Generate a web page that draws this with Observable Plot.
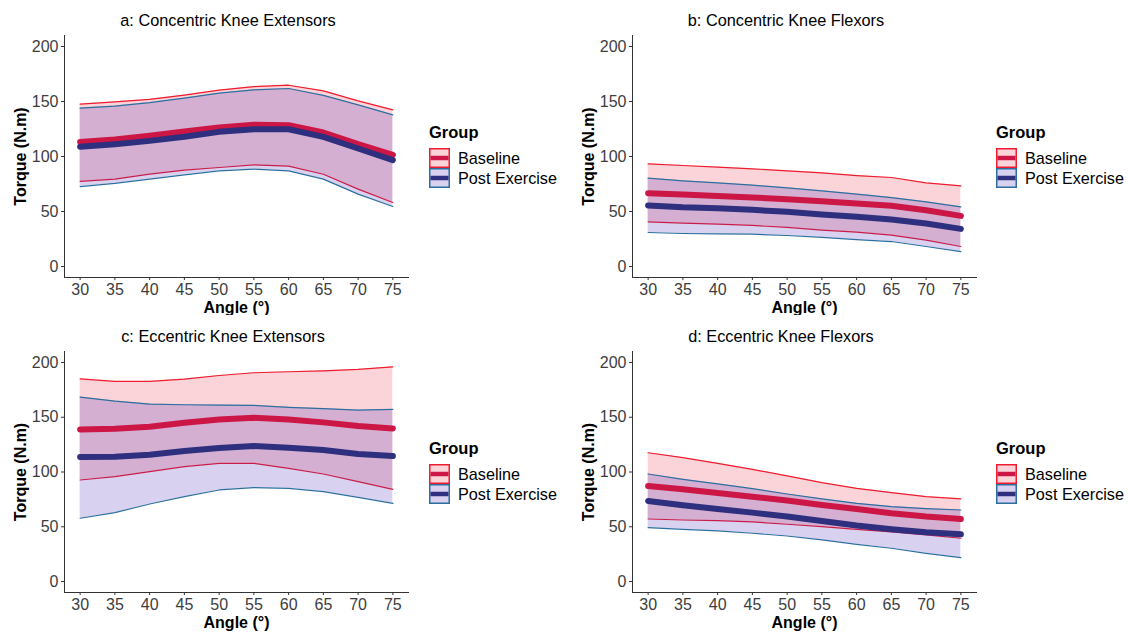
<!DOCTYPE html>
<html>
<head>
<meta charset="utf-8">
<script src="https://cdn.jsdelivr.net/npm/d3@7"></script>
<script src="https://cdn.jsdelivr.net/npm/@observablehq/plot@0.6"></script>
<style>
  body { margin: 0; background: #fff; }
  #wrap { position: relative; width: 1128px; height: 633px; background: #fff; overflow: hidden;
          font-family: "Liberation Sans", Arial, Helvetica, sans-serif; }
  .panel { position: absolute; }
  .title { position: absolute; font-size: 16.3px; color: #000; white-space: nowrap; transform: translateX(-50%); }
  .legend { position: absolute; font-size: 16.2px; color: #000; white-space: nowrap; width: 128px; }
  .legend .lt { font-weight: bold; margin-bottom: 6px; font-size: 16.5px; }
  .legend .row { display: flex; align-items: center; height: 20px; white-space: nowrap; }
  .legend .row span { margin-left: 8px; white-space: nowrap; }
  svg g[aria-label="x-axis label"] text, svg g[aria-label="y-axis label"] text { font-weight: bold; fill: #000; }
  svg g[aria-label="x-axis tick label"] text, svg g[aria-label="y-axis tick label"] text { fill: #3d3d3d; }
</style>
</head>
<body>
<div id="wrap"></div>
<script>
// ---------- data ----------
const angles = [30, 35, 40, 45, 50, 55, 60, 65, 70, 75];
const yTicks = [0, 50, 100, 150, 200];
const xTicks = [30, 35, 40, 45, 50, 55, 60, 65, 70, 75];
const groups = ["Baseline", "Post Exercise"];
const titles = ["a: Concentric Knee Extensors", "b: Concentric Knee Flexors", "c: Eccentric Knee Extensors", "d: Eccentric Knee Flexors"];

// a: Concentric Knee Extensors
const aBaseMean = [113.3, 115.5, 118.8, 122.7, 126.4, 128.8, 128.5, 121.8, 111.2, 101.5];
const aBaseHi   = [147.6, 149.7, 152.0, 155.8, 160.3, 163.6, 164.8, 159.7, 150.6, 142.4];
const aBaseLo   = [77.3, 79.4, 83.9, 87.6, 90.0, 92.4, 91.2, 83.9, 70.3, 58.2];
const aPostMean = [108.8, 111.2, 114.2, 117.9, 122.4, 124.8, 124.8, 117.9, 107.3, 96.7];
const aPostHi   = [144.0, 145.8, 149.0, 153.0, 157.6, 160.6, 161.8, 155.5, 147.0, 137.9];
const aPostLo   = [72.7, 75.5, 79.4, 83.3, 87.0, 88.5, 87.0, 79.4, 65.8, 54.5];

// b: Concentric Knee Flexors
const bBaseMean = [66.7, 65.5, 64.2, 62.7, 61.2, 59.4, 57.3, 55.2, 51.2, 46.0];
const bBaseHi   = [93.3, 91.8, 90.3, 88.8, 87.0, 85.2, 82.7, 80.9, 76.0, 73.3];
const bBaseLo   = [40.6, 39.4, 38.5, 37.3, 35.5, 33.0, 31.2, 28.5, 23.9, 18.2];
const bPostMean = [55.5, 53.9, 53.0, 51.5, 49.7, 47.3, 45.2, 42.7, 39.1, 34.2];
const bPostHi   = [80.3, 77.9, 76.0, 73.9, 71.5, 68.8, 65.8, 62.7, 58.8, 54.2];
const bPostLo   = [30.9, 30.0, 29.7, 29.4, 28.2, 26.4, 24.5, 22.7, 18.2, 13.6];

// c: Eccentric Knee Extensors
const cBaseMean = [138.9, 139.5, 141.3, 145.0, 148.0, 149.5, 148.0, 145.3, 141.9, 139.8];
const cBaseHi   = [185.1, 182.7, 182.7, 184.8, 188.1, 190.6, 191.5, 192.4, 193.6, 196.0];
const cBaseLo   = [92.7, 95.7, 100.3, 104.9, 107.9, 107.9, 103.3, 98.2, 91.2, 84.2];
const cPostMean = [113.7, 114.0, 115.8, 119.1, 121.9, 123.7, 122.2, 120.1, 116.4, 114.6];
const cPostHi   = [168.4, 164.7, 162.0, 161.4, 161.1, 160.8, 159.0, 157.8, 156.5, 157.1];
const cPostLo   = [57.8, 62.9, 70.8, 77.5, 83.6, 85.7, 85.1, 82.1, 76.9, 71.4];

// d: Eccentric Knee Flexors
const dBaseMean = [87.2, 84.2, 80.9, 77.5, 73.9, 69.9, 66.3, 62.3, 59.3, 57.1];
const dBaseHi   = [117.6, 113.1, 107.9, 102.4, 96.4, 90.3, 85.1, 81.2, 77.5, 75.4];
const dBaseLo   = [57.1, 56.2, 55.6, 54.4, 52.3, 50.2, 47.7, 45.3, 42.6, 39.5];
const dPostMean = [73.6, 69.6, 66.3, 62.9, 59.3, 55.3, 51.1, 47.7, 45.0, 43.2];
const dPostHi   = [98.2, 93.3, 89.1, 84.8, 79.9, 75.4, 71.4, 68.4, 66.6, 65.3];
const dPostLo   = [49.2, 47.7, 46.2, 44.1, 41.6, 38.0, 34.0, 30.4, 25.8, 21.9];

// ---------- styles ----------
const baseRibbon = "#eb2a40", postRibbon = "#3c1eb4";
const baseEdge = "#ee1c2e", postEdge = "#2c6f9f";
const baseLine = "#cc1645", postLine = "#2e2f7e";
const ribbonOpacity = 0.2;

function rows(mean, lo, hi) {
  return angles.map((a, i) => ({angle: a, mean: mean[i], lo: lo[i], hi: hi[i]}));
}

const panels = [
  {base: rows(aBaseMean, aBaseLo, aBaseHi), post: rows(aPostMean, aPostLo, aPostHi), left: 0, top: 0, tx: 228, ty: 11, lx: 429, ly: 123},
  {base: rows(bBaseMean, bBaseLo, bBaseHi), post: rows(bPostMean, bPostLo, bPostHi), left: 568, top: 0, tx: 786, ty: 11, lx: 996, ly: 123},
  {base: rows(cBaseMean, cBaseLo, cBaseHi), post: rows(cPostMean, cPostLo, cPostHi), left: 0, top: 316, tx: 223, ty: 327, lx: 429, ly: 439},
  {base: rows(dBaseMean, dBaseLo, dBaseHi), post: rows(dPostMean, dPostLo, dPostHi), left: 568, top: 316, tx: 781, ty: 327, lx: 996, ly: 439}
];

const wrap = document.getElementById("wrap");

panels.forEach((p, k) => {
  const chart = Plot.plot({
    width: 420,
    height: 315,
    marginLeft: 64,
    marginRight: 12,
    marginTop: 35,
    marginBottom: k < 2 ? 38 : 39,
    style: {fontFamily: "'Liberation Sans', Arial, Helvetica, sans-serif", fontSize: "16px", background: "transparent", color: "#333"},
    x: {domain: [27.75, 77.25], ticks: xTicks, tickSize: 3, tickPadding: 3, label: "Angle (°)", labelAnchor: "center", labelArrow: "none", labelOffset: 35, line: true},
    y: {domain: [-10, 210], ticks: yTicks, tickSize: 3, tickPadding: 3, label: "Torque (N.m)", labelAnchor: "center", labelArrow: "none", labelOffset: 50, line: true},
    marks: [
      Plot.areaY(p.base, {x: "angle", y1: "lo", y2: "hi", fill: baseRibbon, fillOpacity: ribbonOpacity}),
      Plot.lineY(p.base, {x: "angle", y: "hi", stroke: baseEdge, strokeWidth: 1.2}),
      Plot.lineY(p.base, {x: "angle", y: "lo", stroke: baseEdge, strokeWidth: 1.2}),
      Plot.areaY(p.post, {x: "angle", y1: "lo", y2: "hi", fill: postRibbon, fillOpacity: ribbonOpacity}),
      Plot.lineY(p.post, {x: "angle", y: "hi", stroke: postEdge, strokeWidth: 1.2}),
      Plot.lineY(p.post, {x: "angle", y: "lo", stroke: postEdge, strokeWidth: 1.2}),
      Plot.lineY(p.base, {x: "angle", y: "mean", stroke: baseLine, strokeWidth: 6}),
      Plot.lineY(p.post, {x: "angle", y: "mean", stroke: postLine, strokeWidth: 6})
    ]
  });
  chart.classList.add("panel");
  chart.style.left = p.left + "px";
  chart.style.top = p.top + "px";
  wrap.appendChild(chart);

  const t = document.createElement("div");
  t.className = "title";
  t.textContent = titles[k];
  t.style.left = p.tx + "px";
  t.style.top = p.ty + "px";
  wrap.appendChild(t);

  const lg = document.createElement("div");
  lg.className = "legend";
  lg.style.left = p.lx + "px";
  lg.style.top = p.ly + "px";
  const keyDefs = [
    {fill: "rgba(235,42,64,0.2)", edge: baseEdge, line: baseLine},
    {fill: "rgba(60,30,180,0.2)", edge: postEdge, line: postLine}
  ];
  let html = '<div class="lt">Group</div>';
  groups.forEach((g, i) => {
    const d = keyDefs[i];
    html += '<div class="row"><svg width="21" height="20" style="display:block;flex:none">' +
      '<rect x="0.75" y="0.75" width="19.5" height="18.5" fill="' + d.fill + '" stroke="' + d.edge + '" stroke-width="1.5"/>' +
      '<line x1="1.5" x2="19.5" y1="10" y2="10" stroke="' + d.line + '" stroke-width="4.5"/></svg>' +
      '<span>' + g + '</span></div>';
  });
  lg.innerHTML = html;
  wrap.appendChild(lg);
});
</script>
</body>
</html>
